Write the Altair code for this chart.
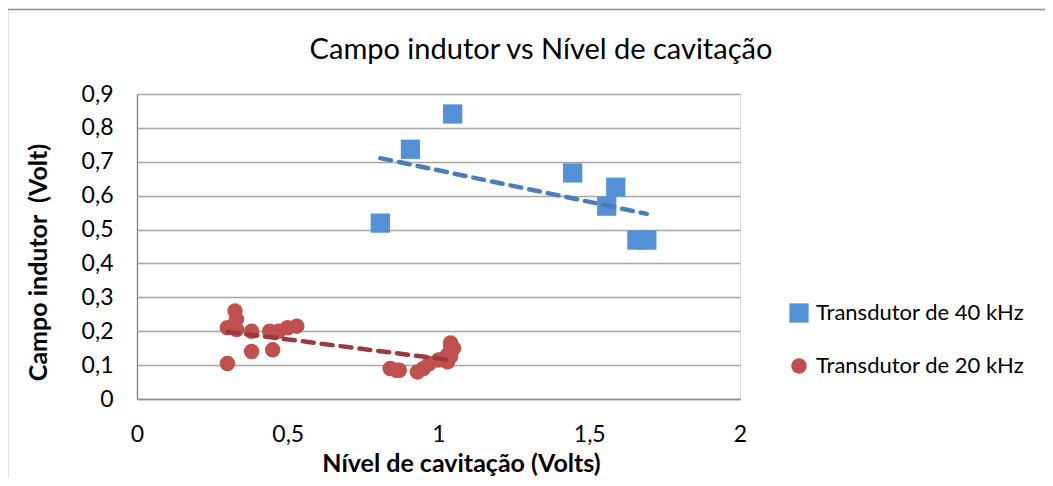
import altair as alt
import pandas as pd

series = ["Transdutor de 40 kHz", "Transdutor de 20 kHz"]
chart_title = "Campo indutor vs Nível de cavitação"

x40 = [0.807, 0.907, 1.047, 1.445, 1.558, 1.588, 1.658, 1.691]
y40 = [0.519, 0.737, 0.841, 0.667, 0.569, 0.625, 0.469, 0.469]

x20 = [0.30, 0.325, 0.33, 0.30, 0.33, 0.38, 0.38, 0.45, 0.44, 0.47, 0.50, 0.53,
       0.84, 0.86, 0.87, 0.93, 0.95, 0.97, 1.00, 1.02, 1.03, 1.04, 1.04, 1.04, 1.05, 1.04, 1.03]
y20 = [0.105, 0.26, 0.235, 0.21, 0.205, 0.20, 0.14, 0.145, 0.20, 0.20, 0.21, 0.215,
       0.09, 0.085, 0.085, 0.08, 0.09, 0.105, 0.115, 0.12, 0.11, 0.165, 0.16, 0.14, 0.15, 0.125, 0.13]

x_ticks = [0, 0.5, 1, 1.5, 2]
y_ticks = [0, 0.1, 0.2, 0.3, 0.4, 0.5, 0.6, 0.7, 0.8, 0.9]

point_colors = ["#5390D6", "#C0504D"]
trend_colors = ["#4A7EBB", "#9B3A38"]

df = pd.DataFrame({
    "x": x40 + x20,
    "y": y40 + y20,
    "s": [series[0]] * len(x40) + [series[1]] * len(x20),
})

FONT = "Lato"
W, H = 603, 305
PAD_L, PAD_T = 129, 86
PAD_R = 1037 - PAD_L - W
PAD_B = 470 - PAD_T - H

xscale = alt.Scale(domain=[0, 2], nice=False, zero=False)
yscale = alt.Scale(domain=[0, 0.9], nice=False, zero=False)

x_enc = alt.X("x:Q", scale=xscale, axis=alt.Axis(
    values=x_ticks, grid=False, ticks=False, domain=True,
    domainColor="#8C8C8C", domainWidth=1.5,
    labelExpr="replace(datum.label, '.', ',')", format="~g",
    labelOverlap=False, labelFlush=False,
    labelFont=FONT, labelFontSize=23, labelColor="black", labelPadding=24,
    title="Nível de cavitação (Volts)", titleFont=FONT, titleFontSize=25,
    titleFontWeight="bold", titleColor="black",
    titleX=324, titleY=64, titleAlign="center", titleBaseline="middle"))

y_enc = alt.Y("y:Q", scale=yscale, axis=alt.Axis(
    values=y_ticks, tickCount=10, grid=True, gridColor="#A6A6A6", gridWidth=1.5,
    ticks=False, domain=True, domainColor="#8C8C8C", domainWidth=1.5,
    labelExpr="replace(datum.label, '.', ',')", format="~g",
    labelOverlap=False, labelFlush=False,
    labelFont=FONT, labelFontSize=23, labelColor="black", labelPadding=24,
    title="Campo indutor\u00a0 (Volt)", titleFont=FONT, titleFontSize=25,
    titleFontWeight="bold", titleColor="black", titleAngle=270,
    titleX=-99, titleY=168, titleAlign="center", titleBaseline="middle"))

legend = alt.Legend(title=None, orient="none", legendX=651, legendY=208,
                    labelFont=FONT, labelFontSize=22, labelColor="black",
                    symbolSize=200, symbolStrokeWidth=0, rowPadding=31,
                    labelOffset=6, labelLimit=400)

points = alt.Chart(df).mark_point(filled=True, opacity=1, strokeWidth=0).encode(
    x=x_enc,
    y=y_enc,
    color=alt.Color("s:N", scale=alt.Scale(domain=series, range=point_colors), legend=legend),
    shape=alt.Shape("s:N", scale=alt.Scale(domain=series, range=["square", "circle"]), legend=legend),
    size=alt.Size("s:N", scale=alt.Scale(domain=series, range=[370, 240]), legend=None),
)

def trend(i):
    return alt.Chart(df).transform_filter(
        alt.datum.s == series[i]
    ).transform_regression("x", "y").mark_line(
        color=trend_colors[i], strokeWidth=4.5, strokeDash=[11, 8], strokeCap="round"
    ).encode(x=alt.X("x:Q", scale=xscale), y=alt.Y("y:Q", scale=yscale))

one = pd.DataFrame({"t": [chart_title]})

frame = alt.Chart(one).mark_rect(
    fill=None, stroke="#8C8C8C", strokeWidth=1.5, clip=False
).encode(x=alt.value(-129.5), x2=alt.value(960), y=alt.value(-84.5), y2=alt.value(420))

title = alt.Chart(one).mark_text(
    font=FONT, fontSize=29, color="black", align="center", baseline="middle", clip=False
).encode(text="t:N", x=alt.value(404), y=alt.value(-44))

chart = alt.layer(frame, points, trend(0), trend(1), title).properties(
    width=W, height=H,
    padding={"left": PAD_L, "top": PAD_T, "right": PAD_R, "bottom": PAD_B},
    autosize=alt.AutoSizeParams(type="none"),
).configure_view(stroke=None).configure(background="white")

chart.save("out.html", embed_options={"renderer": "svg", "actions": False})
